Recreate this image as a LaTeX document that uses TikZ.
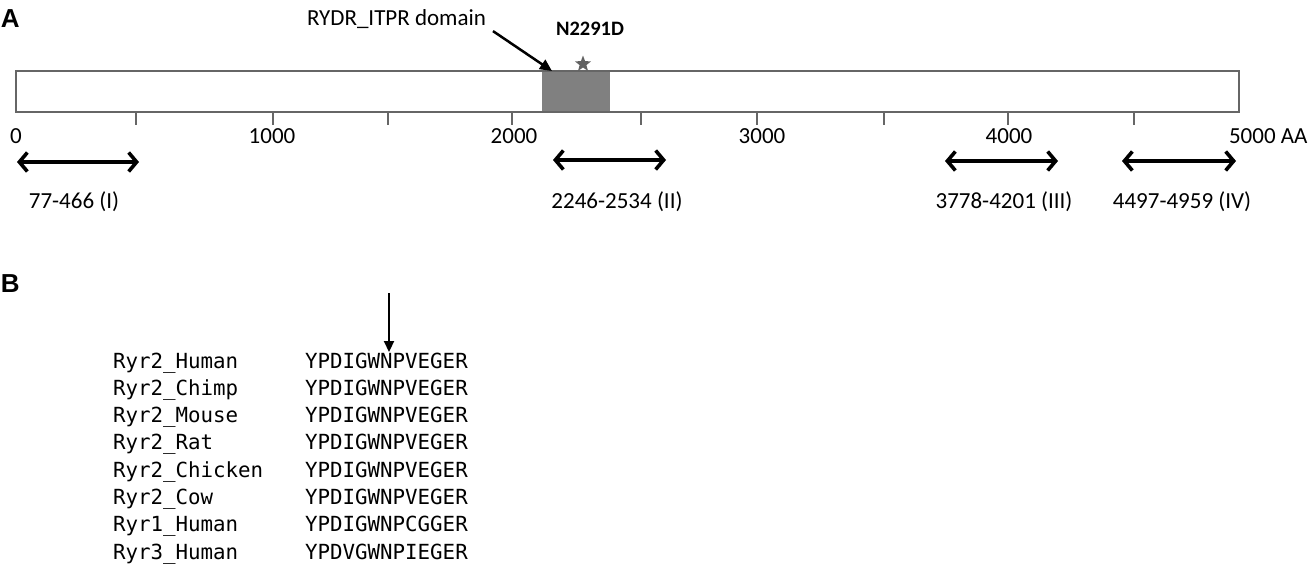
\documentclass[tikz,border=0pt]{standalone}
\usepackage{fontspec}
\setmainfont{Carlito}
\newfontfamily\seqfont{DejaVu Sans Mono}
\newfontfamily\panelfont{Liberation Sans}
\usetikzlibrary{arrows.meta,shapes.geometric,positioning}

\begin{document}
\begin{tikzpicture}[x=1pt,y=-1pt,inner sep=0pt,outer sep=0pt]
\tikzstyle{lbl}=[font=\fontsize{23}{27}\selectfont,anchor=base]
\tikzstyle{panel}=[font=\panelfont\bfseries\fontsize{26}{30}\selectfont,anchor=base west]
\tikzstyle{aarange}=[{Straight Barb[length=8pt,width=19pt]}-{Straight Barb[length=8pt,width=19pt]},line width=3.6pt]
\tikzstyle{seq}=[font=\seqfont\fontsize{20.8}{25}\selectfont,anchor=base west]
\tikzstyle{axis}=[draw=black!60,line width=2.5pt]

\useasboundingbox (0,0) rectangle (1308,571);

% panel A: protein bar
\node[panel] (pA) at (1,27) {A};
\fill[black!50] (542,71) rectangle (610,112);
\draw[axis] (16,71) rectangle (1239,112);
\foreach \x in {136,273,388,512,641,757,884,1008,1134}
  \draw[axis,line width=2pt] (\x,112) -- (\x,125);

\node[lbl] (t0) at (16,143) {0};
\node[lbl] (t1) at (272,143) {1000};
\node[lbl] (t2) at (514,143) {2000};
\node[lbl] (t3) at (762,143) {3000};
\node[lbl] (t4) at (1009,143) {4000};
\node[lbl,anchor=base west] (t5) at (1229,143) {5000 AA};

% domain and mutation
\node[lbl,anchor=base east] (dom) at (486,25) {RYDR\_ITPR domain};
\coordinate (domtip) at (552,71);
\draw[-{Triangle[length=12pt,width=11pt]},line width=2.5pt] (dom.south east) ++(7,3) -- (domtip);
\node[star,star points=5,star point ratio=2.4,fill=black!62,minimum size=17pt] (mut) at (583,64) {};
\node[lbl,font=\bfseries\fontsize{20.5}{24}\selectfont,anchor=base west] (mutlbl) at (556,35) {N2291D};

% regions
\coordinate (r1a) at (17,162);   \coordinate (r1b) at (139,162);
\coordinate (r2a) at (553,160);  \coordinate (r2b) at (666,160);
\coordinate (r3a) at (945,161);  \coordinate (r3b) at (1058,161);
\coordinate (r4a) at (1122,161); \coordinate (r4b) at (1236,161);
\draw[aarange] (r1a) -- (r1b);
\draw[aarange] (r2a) -- (r2b);
\draw[aarange] (r3a) -- (r3b);
\draw[aarange] (r4a) -- (r4b);
\node[lbl] (r1) at (74,208) {77-466 (I)};
\node[lbl] (r2) at (617,208) {2246-2534 (II)};
\node[lbl] (r3) at (1004,208) {3778-4201 (III)};
\node[lbl] (r4) at (1182,208) {4497-4959 (IV)};

% panel B: alignment
\node[panel] (pB) at (1,292) {B};
\foreach \name/\s [count=\i from 0] in {Ryr2\_Human/YPDIGWNPVEGER,Ryr2\_Chimp/YPDIGWNPVEGER,
    Ryr2\_Mouse/YPDIGWNPVEGER,Ryr2\_Rat/YPDIGWNPVEGER,Ryr2\_Chicken/YPDIGWNPVEGER,
    Ryr2\_Cow/YPDIGWNPVEGER,Ryr1\_Human/YPDIGWNPCGGER,Ryr3\_Human/YPDVGWNPIEGER}{
  \node[seq] (n\i) at (113,368+27.3*\i) {\name};
  \node[seq] (s\i) at (305,368+27.3*\i) {\s};
}
\coordinate (mark) at (389,293);
\coordinate (markend) at (389,352);
\draw[-{Triangle[length=11pt,width=10pt]},line width=2.2pt] (mark) -- (markend);
\end{tikzpicture}
\end{document}
